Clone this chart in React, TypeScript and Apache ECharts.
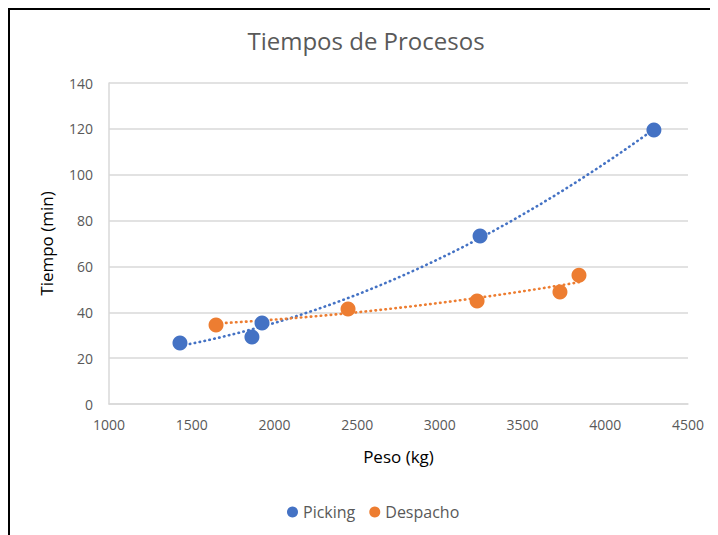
import React, { useEffect, useRef } from "react";
import * as echarts from "echarts";

const pickingX = [1429, 1864, 1925, 3243, 4294];
const pickingY = [26.6, 29.2, 35.3, 73.3, 119.5];
const despachoX = [1647, 2445, 3225, 3726, 3841];
const despachoY = [34.5, 41.4, 44.9, 48.8, 56.2];
const seriesNames = ["Picking", "Despacho"];
const colors = ["#4472C4", "#ED7D31"];

function quadFit(xs: number[], ys: number[]) {
  // least squares polynomial (order 2) trendline, like the spreadsheet's
  const n = xs.length;
  let s0 = n, s1 = 0, s2 = 0, s3 = 0, s4 = 0, t0 = 0, t1 = 0, t2 = 0;
  for (let i = 0; i < n; i++) {
    const x = xs[i] / 1000, y = ys[i];
    s1 += x; s2 += x * x; s3 += x * x * x; s4 += x * x * x * x;
    t0 += y; t1 += x * y; t2 += x * x * y;
  }
  const M = [
    [s0, s1, s2, t0],
    [s1, s2, s3, t1],
    [s2, s3, s4, t2],
  ];
  for (let i = 0; i < 3; i++) {
    for (let j = i + 1; j < 3; j++) {
      const f = M[j][i] / M[i][i];
      for (let k = i; k < 4; k++) M[j][k] -= f * M[i][k];
    }
  }
  const c = [0, 0, 0];
  for (let i = 2; i >= 0; i--) {
    let s = M[i][3];
    for (let k = i + 1; k < 3; k++) s -= M[i][k] * c[k];
    c[i] = s / M[i][i];
  }
  const lo = Math.min(...xs), hi = Math.max(...xs);
  const pts: number[][] = [];
  const steps = 80;
  for (let i = 0; i <= steps; i++) {
    const xv = lo + ((hi - lo) * i) / steps;
    const x = xv / 1000;
    pts.push([xv, c[0] + c[1] * x + c[2] * x * x]);
  }
  return pts;
}

export default function App() {
  const ref = useRef<HTMLDivElement>(null);
  useEffect(() => {
    if (!ref.current) return;
    const chart = echarts.init(ref.current, undefined, { renderer: "svg" });
    const font = "'Open Sans', 'Noto Sans', sans-serif";
    const sets = [
      { xs: pickingX, ys: pickingY },
      { xs: despachoX, ys: despachoY },
    ];
    const series: any[] = [];
    sets.forEach((s, i) => {
      series.push({
        type: "line",
        name: seriesNames[i] + " trend",
        data: quadFit(s.xs, s.ys),
        showSymbol: false,
        symbol: "none",
        lineStyle: { color: colors[i], width: 2.6, type: [0.5, 4.5], cap: "round" },
        z: 1,
        silent: true,
      });
    });
    sets.forEach((s, i) => {
      series.push({
        type: "scatter",
        name: seriesNames[i],
        data: s.xs.map((x, k) => [x, s.ys[k]]),
        symbol: "circle",
        symbolSize: 15,
        itemStyle: { color: colors[i], opacity: 1 },
        z: 3,
      });
    });
    chart.setOption({
      animation: false,
      backgroundColor: "#ffffff",
      textStyle: { fontFamily: font },
      title: {
        text: "Tiempos de Procesos",
        left: 353,
        top: 15,
        textAlign: "center",
        textStyle: { fontSize: 24, fontWeight: "normal", color: "#595959", fontFamily: font },
      },
      legend: {
        data: seriesNames,
        bottom: 10,
        left: 274,
        icon: "circle",
        itemWidth: 11,
        itemHeight: 11,
        itemGap: 14,
        textStyle: { fontSize: 16, color: "#595959", fontFamily: font },
      },
      grid: { left: 101, right: 30, top: 75, bottom: 131, containLabel: false },
      xAxis: {
        type: "value",
        min: 1000,
        max: 4500,
        interval: 500,
        name: "Peso (kg)",
        nameLocation: "middle",
        nameGap: 44,
        nameTextStyle: { fontSize: 17, color: "#000", fontFamily: font },
        axisLine: { show: true, lineStyle: { color: "#d9d9d9", width: 1.5 } },
        axisTick: { show: false },
        splitLine: { show: false },
        axisLabel: { fontSize: 14, color: "#595959", margin: 13, fontFamily: font, formatter: (v: number) => String(v) },
      },
      yAxis: {
        type: "value",
        min: 0,
        max: 140,
        interval: 20,
        name: "Tiempo (min)",
        nameLocation: "middle",
        nameGap: 54,
        nameRotate: 90,
        nameTextStyle: { fontSize: 17, color: "#000", fontFamily: font },
        axisLine: { show: true, lineStyle: { color: "#d9d9d9", width: 1.5 } },
        axisTick: { show: false },
        splitLine: { show: true, lineStyle: { color: "#d9d9d9", width: 1.5 } },
        axisLabel: { fontSize: 14, color: "#595959", margin: 16, fontFamily: font },
      },
      graphic: [
        { type: "line", shape: { x1: 1, y1: 0, x2: 1, y2: 527 }, style: { stroke: "#000", lineWidth: 2 } },
        { type: "line", shape: { x1: 0, y1: 1, x2: 710, y2: 1 }, style: { stroke: "#000", lineWidth: 2 } },
      ],
      series,
    });
    return () => chart.dispose();
  }, []);
  return <div ref={ref} style={{ width: 710, height: 527 }} />;
}
